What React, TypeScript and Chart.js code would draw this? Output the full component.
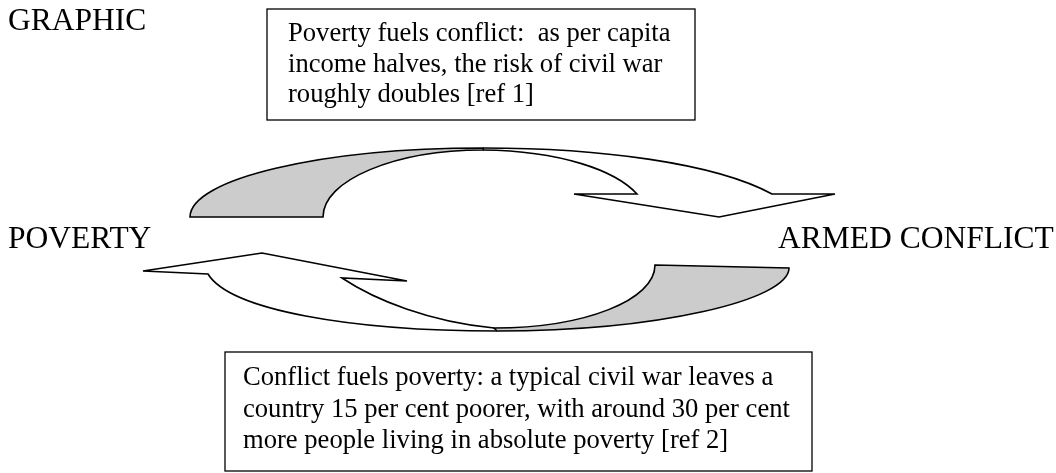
import React, { useEffect, useRef } from "react";
import { Chart, registerables } from "chart.js";

Chart.register(...registerables);

// ---- Text content ----
const cornerTitle = "GRAPHIC";
const leftNode = "POVERTY";
const rightNode = "ARMED CONFLICT";
const topBoxLines = [
  "Poverty fuels conflict:  as per capita",
  "income halves, the risk of civil war",
  "roughly doubles [ref 1]",
];
const bottomBoxLines = [
  "Conflict fuels poverty: a typical civil war leaves a",
  "country 15 per cent poorer, with around 30 per cent",
  "more people living in absolute poverty [ref 2]",
];

// ---- Shape outlines, in the chart's value space (x: 0..1056, y: 0..473 downwards) ----
type Seg = (string | number)[];
const topArrowUnderside: Seg[] = [
  ["M", 190, 217],
  ["C", 190, 179, 321, 148, 483, 148],
  ["L", 483, 150],
  ["C", 395, 150, 323, 180, 323, 217],
  ["Z"],
];
const topArrowBody: Seg[] = [
  ["M", 483, 148],
  ["C", 600, 148, 715, 163, 772, 194],
  ["L", 835, 194],
  ["L", 719, 217],
  ["L", 574, 194],
  ["L", 637, 194],
  ["C", 615, 170, 560, 151, 483, 150],
];
const bottomArrowUnderside: Seg[] = [
  ["M", 655, 265],
  ["L", 789, 268],
  ["C", 789, 300, 658, 331, 497, 331],
  ["L", 494, 328],
  ["C", 585, 328, 655, 300, 655, 265],
  ["Z"],
];
const bottomArrowBody: Seg[] = [
  ["M", 497, 331],
  ["C", 350, 331, 230, 310, 208, 274],
  ["L", 143, 271],
  ["L", 262, 253],
  ["L", 407, 281],
  ["L", 342, 278],
  ["C", 375, 300, 430, 322, 494, 328],
];

// ---- Layout / style ----
const W = 1056;
const H = 473;
const SERIF = '"Liberation Serif", "Times New Roman", Times, serif';
const LABEL_FONT = `31.5px ${SERIF}`;
const BOX_FONT = `26.6px ${SERIF}`;
const GRAY = "#cccccc";
const LAYOUT = {
  title: { x: 8, y: 30 },
  left: { x: 8, y: 248 },
  right: { x: 778, y: 248 },
  topBox: { x: 267, y: 9, w: 428, h: 111, tx: 288, ty: 41, lh: 30.5 },
  bottomBox: { x: 225, y: 352, w: 587, h: 119, tx: 243, ty: 385, lh: 31.5 },
};

const diagramPlugin = {
  id: "diagram",
  afterDraw(chart: any) {
    const ctx: CanvasRenderingContext2D = chart.ctx;
    const xs = chart.scales.x;
    const ys = chart.scales.y;
    const px = (v: number) => xs.getPixelForValue(v);
    const py = (v: number) => ys.getPixelForValue(v);

    const tracePath = (segs: Seg[]) => {
      ctx.beginPath();
      for (const s of segs) {
        const k = s[0] as string;
        const n = s.slice(1) as number[];
        if (k === "M") ctx.moveTo(px(n[0]), py(n[1]));
        else if (k === "L") ctx.lineTo(px(n[0]), py(n[1]));
        else if (k === "C")
          ctx.bezierCurveTo(px(n[0]), py(n[1]), px(n[2]), py(n[3]), px(n[4]), py(n[5]));
        else if (k === "Z") ctx.closePath();
      }
    };

    ctx.save();
    ctx.lineJoin = "miter";
    ctx.lineCap = "butt";
    ctx.strokeStyle = "#000";
    ctx.lineWidth = 1.6;

    for (const p of [topArrowUnderside, bottomArrowUnderside]) {
      tracePath(p);
      ctx.fillStyle = GRAY;
      ctx.fill();
      ctx.stroke();
    }
    for (const p of [topArrowBody, bottomArrowBody]) {
      tracePath(p);
      ctx.stroke();
    }

    const drawBox = (b: any, lines: string[]) => {
      const x0 = px(b.x), y0 = py(b.y);
      const w = px(b.x + b.w) - x0, h = py(b.y + b.h) - y0;
      ctx.fillStyle = "#fff";
      ctx.fillRect(x0, y0, w, h);
      ctx.lineWidth = 1.3;
      ctx.strokeRect(x0, y0, w, h);
      ctx.fillStyle = "#000";
      ctx.font = BOX_FONT;
      ctx.textBaseline = "alphabetic";
      ctx.textAlign = "left";
      lines.forEach((t, i) => ctx.fillText(t, px(b.tx), py(b.ty + i * b.lh)));
    };
    drawBox(LAYOUT.topBox, topBoxLines);
    drawBox(LAYOUT.bottomBox, bottomBoxLines);

    ctx.fillStyle = "#000";
    ctx.font = LABEL_FONT;
    ctx.textBaseline = "alphabetic";
    ctx.textAlign = "left";
    ctx.fillText(cornerTitle, px(LAYOUT.title.x), py(LAYOUT.title.y));
    ctx.fillText(leftNode, px(LAYOUT.left.x), py(LAYOUT.left.y));
    ctx.fillText(rightNode, px(LAYOUT.right.x), py(LAYOUT.right.y));
    ctx.restore();
  },
};

export default function App() {
  const ref = useRef<HTMLCanvasElement | null>(null);
  useEffect(() => {
    if (!ref.current) return;
    const chart = new Chart(ref.current, {
      type: "scatter",
      data: { datasets: [{ data: [], pointRadius: 0 }] },
      options: {
        animation: false,
        responsive: false,
        maintainAspectRatio: false,
        layout: { padding: 0 },
        plugins: { legend: { display: false }, tooltip: { enabled: false }, title: { display: false } },
        scales: {
          x: { type: "linear", min: 0, max: W, display: false },
          y: { type: "linear", min: 0, max: H, reverse: true, display: false },
        },
      },
      plugins: [diagramPlugin],
    });
    return () => chart.destroy();
  }, []);
  return (
    <div style={{ position: "absolute", left: 0, top: 0, width: W, height: H, background: "#fff" }}>
      <canvas ref={ref} width={W} height={H} style={{ display: "block" }} />
    </div>
  );
}
